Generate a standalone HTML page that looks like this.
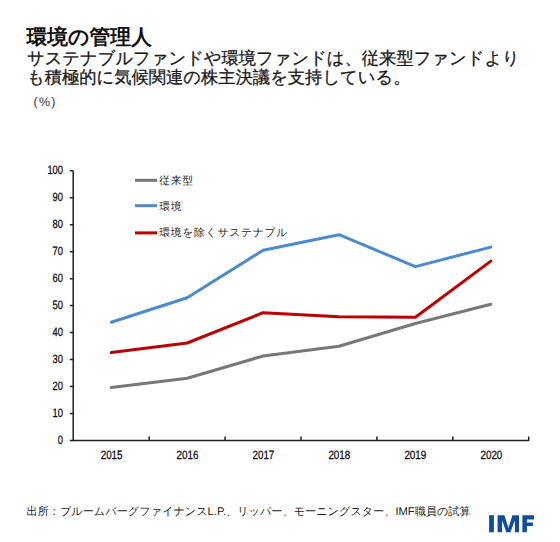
<!DOCTYPE html>
<html><head><meta charset="utf-8">
<style>
html,body{margin:0;padding:0;background:#fff;}
body{text-rendering:geometricPrecision;width:560px;height:542px;position:relative;overflow:hidden;font-family:"Liberation Sans",sans-serif;color:#000;}
.t{position:absolute;white-space:nowrap;line-height:1;}
#title{left:26.5px;top:28px;font-size:20.8px;font-weight:bold;color:#111;}
#sub1{left:27px;top:50.2px;font-size:17.3px;color:#1a1a1a;-webkit-text-stroke:0.3px #1a1a1a;}
#sub2{left:27px;top:69px;font-size:17.3px;color:#1a1a1a;-webkit-text-stroke:0.3px #1a1a1a;}
#pct{left:33.5px;top:96.2px;font-size:12.4px;color:#333;letter-spacing:1.3px;}
#src{left:26.5px;top:506.8px;font-size:11.15px;color:#222;}
svg{position:absolute;left:0;top:0;}
</style></head>
<body>
<div class="t" id="title">環境の管理人</div>
<div class="t" id="sub1">サステナブルファンドや環境ファンドは、従来型ファンドより</div>
<div class="t" id="sub2">も積極的に気候関連の株主決議を支持している。</div>
<div class="t" id="pct">(%)</div>
<svg width="560" height="542" viewBox="0 0 560 542">
 <g stroke="#222" stroke-width="1.5" fill="none">
  <path d="M73.2 170.8 V440.4 H528.7"/>
  <path d="M69.8 170.8 H73.2 M69.8 197.8 H73.2 M69.8 224.7 H73.2 M69.8 251.7 H73.2 M69.8 278.7 H73.2 M69.8 305.6 H73.2 M69.8 332.6 H73.2 M69.8 359.5 H73.2 M69.8 386.5 H73.2 M69.8 413.4 H73.2 M69.8 440.4 H73.2"/>
  <path d="M149.2 440.4 V436.5 M225.1 440.4 V436.5 M301 440.4 V436.5 M376.9 440.4 V436.5 M452.8 440.4 V436.5 M528.7 441 V436.5"/>
 </g>
 <g font-family="Liberation Sans, sans-serif" font-size="12" fill="#111" stroke="#111" stroke-width="0.3" text-anchor="end">
  <text x="63" y="174.3" textLength="15.6" lengthAdjust="spacingAndGlyphs">100</text>
  <text x="63" y="201.3" textLength="10.4" lengthAdjust="spacingAndGlyphs">90</text>
  <text x="63" y="228.3" textLength="10.4" lengthAdjust="spacingAndGlyphs">80</text>
  <text x="63" y="255.3" textLength="10.4" lengthAdjust="spacingAndGlyphs">70</text>
  <text x="63" y="282.3" textLength="10.4" lengthAdjust="spacingAndGlyphs">60</text>
  <text x="63" y="309.3" textLength="10.4" lengthAdjust="spacingAndGlyphs">50</text>
  <text x="63" y="336.3" textLength="10.4" lengthAdjust="spacingAndGlyphs">40</text>
  <text x="63" y="363.3" textLength="10.4" lengthAdjust="spacingAndGlyphs">30</text>
  <text x="63" y="390.3" textLength="10.4" lengthAdjust="spacingAndGlyphs">20</text>
  <text x="63" y="417.3" textLength="10.4" lengthAdjust="spacingAndGlyphs">10</text>
  <text x="63" y="444.3" textLength="5.2" lengthAdjust="spacingAndGlyphs">0</text>
 </g>
 <g font-family="Liberation Sans, sans-serif" font-size="12" fill="#111" stroke="#111" stroke-width="0.3">
  <text x="100.7" y="459" textLength="21.8" lengthAdjust="spacingAndGlyphs">2015</text>
  <text x="176.6" y="459" textLength="21.8" lengthAdjust="spacingAndGlyphs">2016</text>
  <text x="252.5" y="459" textLength="21.8" lengthAdjust="spacingAndGlyphs">2017</text>
  <text x="328.4" y="459" textLength="21.8" lengthAdjust="spacingAndGlyphs">2018</text>
  <text x="404.4" y="459" textLength="21.8" lengthAdjust="spacingAndGlyphs">2019</text>
  <text x="480.5" y="459" textLength="21.8" lengthAdjust="spacingAndGlyphs">2020</text>
 </g>
 <g fill="none" stroke-width="3" stroke-linejoin="round" stroke-linecap="round">
  <polyline stroke="#777777" points="111.3,387.6 187.2,378.3 263.1,356 339,346.3 415.4,323.5 490.8,304.3"/>
  <polyline stroke="#4d8acb" points="111.3,322.3 187.2,297.7 263.1,250.2 339,234.7 415.4,266.6 490.8,247.1"/>
  <polyline stroke="#bb0000" points="111.3,352.5 187.2,343 263.1,312.7 339,316.8 415.4,317.3 490.8,261.1"/>
 </g>
 <g stroke-width="3">
  <path d="M135 180.3 H157.2" stroke="#777777"/>
  <path d="M135 205.7 H157.2" stroke="#4d8acb"/>
  <path d="M135 232.9 H157.2" stroke="#bb0000"/>
 </g>
 <g font-family="Liberation Sans, sans-serif" font-size="10.8" fill="#222" letter-spacing="0.72">
  <text x="159.3" y="183.5">従来型</text>
  <text x="159.3" y="209.9">環境</text>
  <text x="159.3" y="236.2">環境を除くサステナブル</text>
 </g>
 <g fill="#0f4c9c">
  <rect x="489.1" y="515.2" width="4.8" height="17.1"/>
  <polygon points="497.6,515.2 504.4,515.2 508.4,528.1 512.4,515.2 519,515.2 519,532.3 514.9,532.3 514.9,520.3 510.4,532.3 506.3,532.3 502.1,520.3 502.1,532.3 497.6,532.3"/>
  <path d="M522.4 515.2 H534 V519.5 H526.9 V522.5 H532.9 V525.9 H526.9 V532.3 H522.4 Z"/>
 </g>
</svg>
<div class="t" id="src">出所：ブルームバーグファイナンスL.P.、リッパー、モーニングスター、IMF職員の試算</div>
</body></html>
